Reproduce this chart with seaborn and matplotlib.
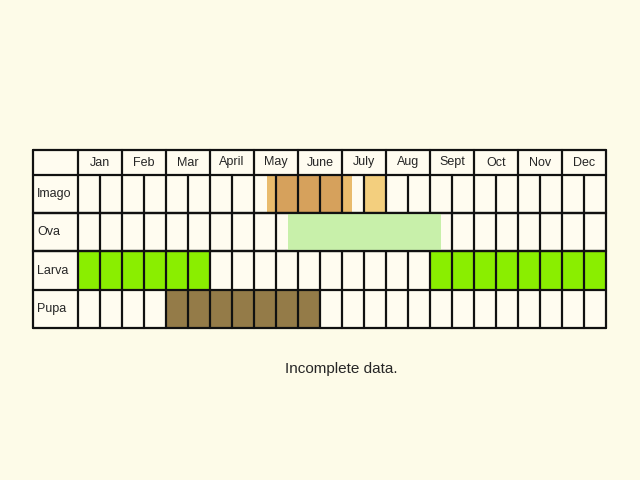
import seaborn as sns
import matplotlib.pyplot as plt
from matplotlib.patches import Rectangle

sns.set_style("white")

months = ["Jan", "Feb", "Mar", "April", "May", "June", "July", "Aug", "Sept", "Oct", "Nov", "Dec"]
stages = ["Imago", "Ova", "Larva", "Pupa"]
# spans in half-month cells: (stage, start, end, colour, above grid lines)
spans = [
	("Imago", 8.6, 12.45, "#e9bb6c", False),
	("Imago", 9, 12, "#d6a15c", False),
	("Imago", 13, 14, "#f3cf7e", False),
	("Ova", 9.55, 16.5, "#c8f0aa", True),
	("Larva", 0, 6, "#8aee00", False),
	("Larva", 16, 24, "#8aee00", False),
	("Pupa", 4, 11, "#947b48", False),
]

bg = "#fdfbe8"
cell = "#fffcf0"
x0, y0 = 78, 175     # table origin (pixels)
cw, hh, rh = 22, 25, 38.2
lw_px = 33

fig = plt.figure(figsize=(6.4, 4.8), dpi=100, facecolor=bg)
ax = fig.add_axes([0, 0, 1, 1])
ax.set_xlim(0, 640)
ax.set_ylim(480, 0)
ax.axis("off")

ncell = len(months) * 2
right = x0 + ncell * cw
bottom = y0 + len(stages) * rh

ax.add_patch(Rectangle((lw_px, y0 - hh), right - lw_px, bottom - y0 + hh, facecolor=cell, edgecolor="none", zorder=0))

for name, s, e, c, top in spans:
	r = stages.index(name)
	ax.add_patch(Rectangle((x0 + s * cw, y0 + r * rh), (e - s) * cw, rh, facecolor=c, edgecolor="none",
						   zorder=3 if top else 1))

kw = dict(color="#111111", lw=1.6, zorder=2)
# horizontal lines
for y in [y0 - hh, y0] + [y0 + (i + 1) * rh for i in range(len(stages))]:
	ax.plot([lw_px, right], [y, y], **kw)
# vertical lines
ax.plot([lw_px, lw_px], [y0 - hh, bottom], **kw)
for k in range(ncell + 1):
	ax.plot([x0 + k * cw] * 2, [y0 - hh if k % 2 == 0 else y0, bottom], **kw)
# redraw row borders above ova fill
for y in [y0 + rh, y0 + 2 * rh]:
	ax.plot([lw_px, right], [y, y], color="#111111", lw=1.6, zorder=4)

for i, m in enumerate(months):
	ax.text(x0 + (2 * i + 1) * cw, y0 - hh / 2, m, ha="center", va="center", fontsize=9, family="Liberation Sans")
for i, s in enumerate(stages):
	ax.text(lw_px + 4, y0 + (i + 0.5) * rh, s, ha="left", va="center", fontsize=9, family="Liberation Sans")

ax.text(341, 369, "Incomplete data.", ha="center", va="center", fontsize=11, family="Liberation Sans")

fig.savefig("out.png", dpi=100, facecolor=bg)
